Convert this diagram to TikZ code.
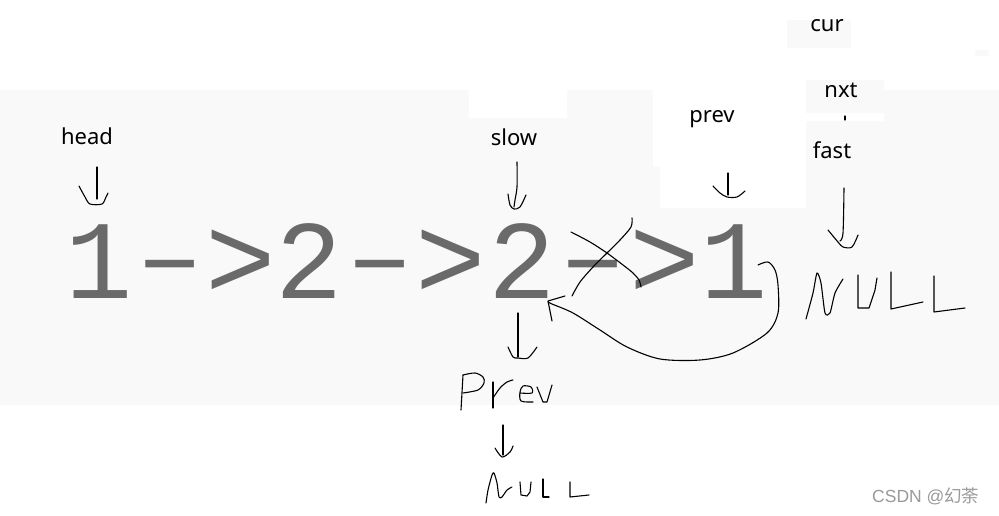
\documentclass[tikz,border=0pt]{standalone}
\usepackage{fontspec}
\newfontfamily\labelfont{Noto Sans}
\newfontfamily\digitfont{Liberation Mono}
\newfontfamily\wmfont{Liberation Sans}
\newfontfamily\cjkfont{Noto Sans CJK SC}
\definecolor{bandgray}{HTML}{F9F9F9}
\definecolor{glyphgray}{HTML}{6A6A6A}
\definecolor{wmgray}{HTML}{9A9A9A}
\newcommand\gch[2]{\makebox[#1pt][c]{#2}}
\newcommand\gdash{\raisebox{6pt}{–}}
\newcommand\ggt{\scalebox{1.05}{>}}
\begin{document}
\begin{tikzpicture}[x=1pt,y=-1pt,
  lbl/.style={font=\labelfont\fontsize{22}{22}\selectfont, anchor=base, inner sep=0pt},
  glyph/.style={font=\digitfont\fontsize{112}{112}\selectfont, text=glyphgray, anchor=base west, inner sep=0pt},
  hand/.style={line width=1.1pt, line join=round, line cap=round},
]
\useasboundingbox (0,0) rectangle (999,516);
% background
\fill[white] (0,0) rectangle (999,516);
\fill[bandgray] (0,90) rectangle (999,405);
\fill[white] (469,88) rectangle (567,118);
\fill[white] (653,88) rectangle (806,167);
\fill[white] (660,167) rectangle (806,208);
\fill[white] (806,113) rectangle (884,121);
\fill[bandgray] (787,20) rectangle (851,48);
\fill[bandgray] (806,80) rectangle (884,113);
\fill[bandgray] (975,50) rectangle (989,56);

% labels
\node[lbl] (head) at (87,145) {head};
\node[lbl] (slow) at (514,146) {slow};
\node[lbl] (prev) at (712,123) {prev};
\node[lbl] (cur) at (827,32) {cur};
\node[lbl] (nxt) at (841,98) {nxt};
\node[lbl] (fast) at (832,159) {fast};

% list text
\node[glyph] (list) at (64,298) {\gch{70}{1}\gch{72}{\gdash}\gch{69}{\ggt}\gch{68.5}{2}\gch{72}{\gdash}\gch{71}{\ggt}\gch{70.5}{2}\gch{72}{\gdash}\gch{70.5}{\ggt}\gch{68.5}{1}};

% head arrow
\draw[hand] (97,167) -- (97,199);
\draw[hand] plot[smooth] coordinates {(79,186) (85,197) (90,204) (102,204) (106,197) (108,193)};
% slow arrow
\draw[hand] plot[smooth] coordinates {(517,162) (517,187) (515,200) (514,207)};
\draw[hand] plot[smooth] coordinates {(508,194) (510,205) (514,209) (520,207) (526,195)};
% prev arrow
\draw[hand] (728,173) -- (728,195);
\draw[hand] plot[smooth] coordinates {(713,186) (720,193) (727,197) (737,197) (745,191)};
% nxt tick
\draw[hand] (845,116) -- (845,120);
% fast arrow
\draw[hand] plot[smooth] coordinates {(844,188) (843,233) (840,241)};
\draw[hand] plot[smooth] coordinates {(828,230) (838,242) (843,247) (852,247) (858,235)};
% NULL right
\draw[hand] plot[smooth, tension=0.4] coordinates {(806,319) (813,293) (817,273) (821,283) (825,313) (830,313) (835,293) (843,279)};
\draw[hand] (858,275) -- (858,308) -- (869,308) -- (875,290) -- (877,278);
\draw[hand] (891,272) -- (891,309) -- (923,302);
\draw[hand] (934,276) -- (934,312) -- (965,308);

% cross over the link
\draw[hand] plot[smooth] coordinates {(571,232) (590,242) (607,253) (623,265) (633,273) (639,280) (641,287)};
\draw[hand] plot[smooth] coordinates {(632,218) (631,227) (620,240) (607,253) (593,267) (580,282) (572,296)};

% big curved arrow from last 1 back to second 2
\draw[hand] plot[smooth] coordinates {(758,265) (768,262) (775,270) (778,285) (778,313) (767,333) (733,353) (700,360) (660,359) (627,347) (600,330) (573,313) (552,304) (548,302)};
\draw[hand] (565,296) -- (548,301) -- (552,321);

% second 2 down arrow
\draw[hand] plot[smooth] coordinates {(518,313) (518,340) (518,357)};
\draw[hand] plot[smooth] coordinates {(508,347) (513,357) (518,358) (528,358) (537,347)};

% Prev (handwritten)
\draw[hand] (463,375) -- (461,410);
\draw[hand] plot[smooth] coordinates {(463,375) (475,373) (483,377) (484,383) (478,390) (463,393)};
\draw[hand] (493,382) -- (493,408);
\draw[hand] plot[smooth] coordinates {(493,398) (500,388) (507,382) (513,380)};
\draw[hand] plot[smooth] coordinates {(520,393) (532,393) (531,387) (523,386) (520,392) (521,401) (533,402)};
\draw[hand] (537,387) -- (543,402) -- (547,402) -- (552,385);

% arrow below Prev
\draw[hand] (503,425) -- (503,455);
\draw[hand] plot[smooth] coordinates {(495,448) (502,457) (510,452) (513,446)};

% NULL bottom
\draw[hand] plot[smooth, tension=0.4] coordinates {(486,503) (488,490) (492,475) (494,473) (497,483) (499,497) (502,497) (507,490) (512,487)};
\draw[hand] (520,482) -- (521,495) -- (527,496) -- (530,492) -- (531,482);
\draw[hand] (543,479) -- (543,497) -- (549,497);
\draw[hand] (570,482) -- (570,497) -- (589,495);

% watermark
\node[anchor=base west, inner sep=0pt, text=wmgray, font=\wmfont\fontsize{17.5}{17.5}\selectfont] (wm) at (872,502) {CSDN @{\cjkfont 幻荼}};
\end{tikzpicture}
\end{document}
